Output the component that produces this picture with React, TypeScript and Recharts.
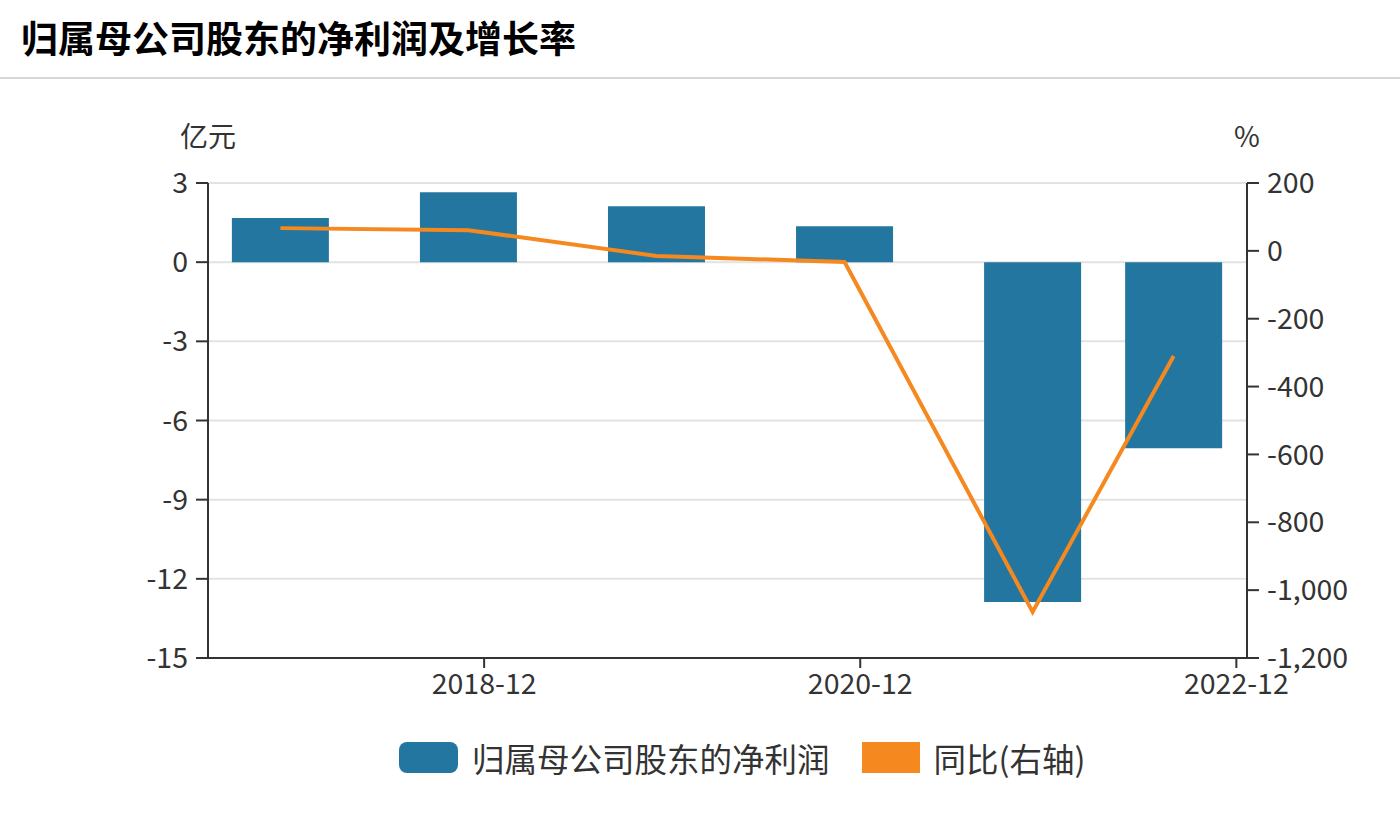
import React from 'react'
import { ComposedChart, Bar, Line, XAxis, YAxis, CartesianGrid } from 'recharts'

const PERIODS = ['2017-12', '2018-12', '2019-12', '2020-12', '2021-12', '2022-09']
const NET_PROFIT = [1.67, 2.65, 2.12, 1.36, -12.88, -7.05] // 亿元
const YOY = [67, 61, -15, -33, -1064, -310] // %
const X_TICK_LABELS = ['2018-12', '2020-12', '2022-12']
const LEFT_TICKS = [3, 0, -3, -6, -9, -12, -15]
const RIGHT_TICKS = [200, 0, -200, -400, -600, -800, -1000, -1200]

const BAR_NAME = '归属母公司股东的净利润'
const LINE_NAME = '同比(右轴)'

const FONT = '"Noto Sans CJK SC", "Noto Sans", sans-serif'
const BLUE = '#22769f'
const ORANGE = '#f5891f'
const AXIS = '#333'

const monthIndex = (s: string) => {
  const [y, m] = s.split('-').map(Number)
  return y * 12 + m - 1
}
// time axis: a "YYYY-12" tick sits at the start of the following month
const tickPos = (label: string) => monthIndex(label) + 1
const xTicks = X_TICK_LABELS.map(tickPos)
const tickLabel = new Map(X_TICK_LABELS.map((l) => [tickPos(l), l]))

const data = PERIODS.map((p, i) => ({ m: monthIndex(p), profit: NET_PROFIT[i], yoy: YOY[i] }))

const fmt = (v: number) => v.toLocaleString('en-US')

export default function App() {
  const tickStyle = { fill: AXIS, fontSize: 28.5, fontFamily: FONT }
  return (
    <div style={{ position: 'absolute', left: 0, top: 0, width: 1400, height: 819, background: '#fff', fontFamily: FONT }}>
      <div style={{ position: 'absolute', left: 21, top: 12, fontSize: 37, fontWeight: 700, color: '#000', lineHeight: '50px' }}>
        归属母公司股东的净利润及增长率
      </div>
      <div style={{ position: 'absolute', left: 0, top: 77, width: 1400, height: 2, background: '#d6d6d6' }} />

      <ComposedChart
        width={1400}
        height={819}
        data={data}
        margin={{ top: 183, right: 33, bottom: 111, left: 128 }}
      >
        <CartesianGrid yAxisId="left" vertical={false} stroke="#e2e2e2" strokeWidth={2} />
        <XAxis
          dataKey="m"
          type="number"
          domain={[xTicks[0] - 17.62, xTicks[0] + 48.68]}
          ticks={xTicks}
          allowDataOverflow
          tickFormatter={(v: number) => tickLabel.get(v) ?? ''}
          height={50}
          tickSize={10}
          tickMargin={6}
          axisLine={{ stroke: AXIS, strokeWidth: 2 }}
          tickLine={{ stroke: AXIS, strokeWidth: 2 }}
          tick={tickStyle}
        />
        <YAxis
          yAxisId="left"
          domain={[-15, 3]}
          ticks={LEFT_TICKS}
          width={80}
          tickSize={12}
          tickMargin={8}
          axisLine={{ stroke: AXIS, strokeWidth: 2 }}
          tickLine={{ stroke: AXIS, strokeWidth: 2 }}
          tick={tickStyle}
          label={{
            content: ({ viewBox }: any) => (
              <text x={viewBox.x + viewBox.width} y={viewBox.y - 36} textAnchor="middle" fill={AXIS} fontSize={28} fontFamily={FONT}>
                亿元
              </text>
            ),
          }}
        />
        <YAxis
          yAxisId="right"
          orientation="right"
          domain={[-1200, 200]}
          ticks={RIGHT_TICKS}
          tickFormatter={fmt}
          width={120}
          tickSize={12}
          tickMargin={8}
          axisLine={{ stroke: AXIS, strokeWidth: 2 }}
          tickLine={{ stroke: AXIS, strokeWidth: 2 }}
          tick={{ ...tickStyle, textAnchor: 'start' }}
          label={{
            content: ({ viewBox }: any) => (
              <text x={viewBox.x} y={viewBox.y - 36} textAnchor="middle" fill={AXIS} fontSize={28} fontFamily={FONT}>
                %
              </text>
            ),
          }}
        />
        <Bar yAxisId="left" dataKey="profit" name={BAR_NAME} fill={BLUE} barSize={97} isAnimationActive={false} />
        <Line
          yAxisId="right"
          dataKey="yoy"
          name={LINE_NAME}
          stroke={ORANGE}
          strokeWidth={4}
          dot={false}
          activeDot={false}
          type="linear"
          isAnimationActive={false}
        />
      </ComposedChart>

      <div
        style={{
          position: 'absolute',
          left: 399,
          top: 734,
          display: 'flex',
          alignItems: 'center',
          fontSize: 32.5,
          color: AXIS,
          whiteSpace: 'nowrap',
        }}
      >
        <span style={{ display: 'inline-block', width: 59, height: 31, borderRadius: 8, background: BLUE, marginRight: 14 }} />
        <span>{BAR_NAME}</span>
        <span style={{ display: 'inline-block', width: 58, height: 31, background: ORANGE, marginLeft: 32, marginRight: 14 }} />
        <span>{LINE_NAME}</span>
      </div>
    </div>
  )
}
